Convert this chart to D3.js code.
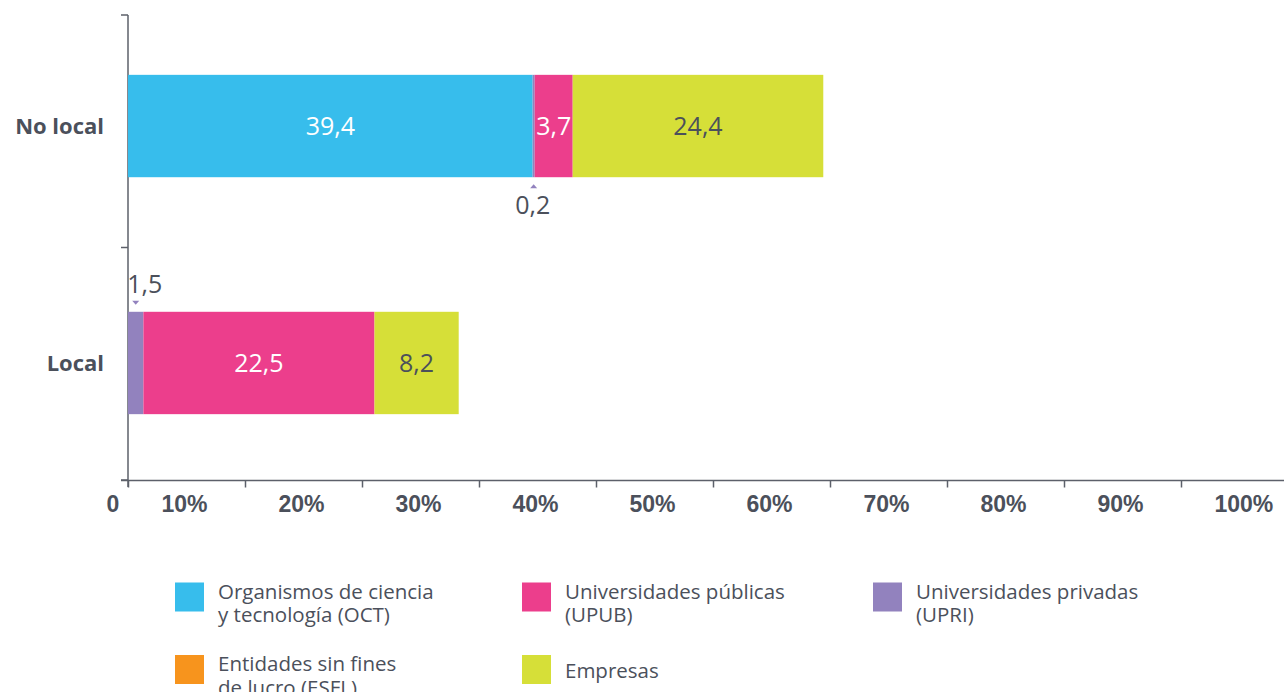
<!DOCTYPE html>
<html>
<head>
<meta charset="utf-8">
<script src="https://cdn.jsdelivr.net/npm/d3@7"></script>
<style>
	body { margin: 0; background: #fff; font-family: "Open Sans", "Noto Sans", sans-serif; }
	svg { display: block; }
</style>
</head>
<body>
<script>
// Data
const categories = ["No local", "Local"];
const seriesKeys = ["OCT", "UPRI", "UPUB", "ESFL", "EMP"];
const seriesNames = {
	OCT: ["Organismos de ciencia", "y tecnología (OCT)"],
	UPUB: ["Universidades públicas", "(UPUB)"],
	UPRI: ["Universidades privadas", "(UPRI)"],
	ESFL: ["Entidades sin fines", "de lucro (ESFL)"],
	EMP: ["Empresas"],
};
const octValues = [39.4, 0];
const upriValues = [0.2, 1.5];
const upubValues = [3.7, 22.5];
const esflValues = [0, 0];
const empValues = [24.4, 8.2];
const tickValues = [0, 10, 20, 30, 40, 50, 60, 70, 80, 90, 100];
const legendOrder = ["OCT", "UPUB", "UPRI", "ESFL", "EMP"];

const colors = {
	OCT: "#37bdec",
	UPUB: "#ec3e8c",
	UPRI: "#9282be",
	ESFL: "#f7941d",
	EMP: "#d6df38",
};
const textColor = "#4b505b";
const axisColor = "#5c606a";

const w = 1284;
const h = 692;

const rows = categories.map((c, i) => ({
	cat: c,
	OCT: octValues[i],
	UPRI: upriValues[i],
	UPUB: upubValues[i],
	ESFL: esflValues[i],
	EMP: empValues[i],
}));

const svg = d3.select("body").append("svg").attr("width", w).attr("height", h);

// Scales
const x = d3.scaleLinear().domain([0, 100]).range([128, 1155]); // bars
const xAxisScale = d3.scaleLinear().domain([0, 100]).range([128, 1298]); // axis ticks
const yAxisBand = d3.scaleBand().domain(categories).range([15, 480]);
const y = d3.scaleBand().domain(categories).range([8.5, 480.5]).paddingInner(0.568).paddingOuter(0.28);

// X axis
const xAxis = d3.axisBottom(xAxisScale).tickValues(tickValues).tickSize(7).tickSizeOuter(0)
	.tickFormat((d) => (d === 0 ? "0" : d + "%"));
const gx = svg.append("g").attr("transform", "translate(0,480.5)").call(xAxis);
gx.select(".domain").attr("stroke", axisColor).attr("stroke-width", 1.5).attr("d", "M121,0H1284");
gx.selectAll(".tick line").attr("stroke", axisColor).attr("stroke-width", 1.5);
gx.selectAll(".tick").filter((d) => d === 100).select("line").remove();
gx.selectAll(".tick text")
	.attr("fill", textColor)
	.attr("font-size", 23)
	.attr("font-weight", 700)
	.attr("text-anchor", "start")
	.attr("y", 15)
	.attr("dy", "0.71em")
	.attr("x", (d) => (d === 0 ? -22 : -84));

// Y axis
const yTicks = categories.map((c) => yAxisBand(c)).concat([480]);
svg.append("line")
	.attr("x1", 128).attr("x2", 128)
	.attr("y1", 15).attr("y2", 487)
	.attr("stroke", axisColor).attr("stroke-width", 1.5);
svg.selectAll(".ytick")
	.data(yTicks)
	.enter()
	.append("line")
	.attr("x1", 121).attr("x2", 128)
	.attr("y1", (d) => d).attr("y2", (d) => d)
	.attr("stroke", axisColor).attr("stroke-width", 1.5);

svg.selectAll(".cat")
	.data(categories)
	.enter()
	.append("text")
	.attr("x", 104)
	.attr("y", (d) => y(d) + y.bandwidth() / 2)
	.attr("dy", "0.35em")
	.attr("text-anchor", "end")
	.attr("font-size", 22)
	.attr("font-weight", 700)
	.attr("fill", textColor)
	.text((d) => d);

// Stacked bars
const stacked = d3.stack().keys(seriesKeys)(rows);

const layers = svg.selectAll(".layer")
	.data(stacked)
	.enter()
	.append("g")
	.attr("fill", (d) => colors[d.key]);

layers.selectAll("rect")
	.data((d) => d.map((p) => ({ key: d.key, p })))
	.enter()
	.append("rect")
	.attr("x", (d) => x(d.p[0]))
	.attr("y", (d) => y(d.p.data.cat))
	.attr("width", (d) => x(d.p[1]) - x(d.p[0]))
	.attr("height", y.bandwidth());

// Value labels
const fmt = (v) => String(v).replace(".", ",");
const labels = [];
stacked.forEach((layer) => {
	layer.forEach((p, i) => {
		const v = p[1] - p[0];
		if (v > 0) labels.push({ key: layer.key, v: Math.round(v * 10) / 10, p, i });
	});
});

labels.forEach((d) => {
	const cx = x((d.p[0] + d.p[1]) / 2);
	const top = y(d.p.data.cat);
	const bottom = top + y.bandwidth();
	if (d.v >= 2) {
		svg.append("text")
			.attr("x", cx)
			.attr("y", top + y.bandwidth() / 2)
			.attr("dy", "0.36em")
			.attr("text-anchor", "middle")
			.attr("font-size", 25)
			.attr("fill", d.key === "EMP" ? textColor : "#fff")
			.text(fmt(d.v));
	} else if (d.i === 0) {
		// below the bar, marker pointing up
		svg.append("path")
			.attr("d", `M${cx - 3.5},${bottom + 11}L${cx + 3.5},${bottom + 11}L${cx},${bottom + 7}Z`)
			.attr("fill", colors[d.key]);
		svg.append("text")
			.attr("x", cx - 1)
			.attr("y", bottom + 37)
			.attr("text-anchor", "middle")
			.attr("font-size", 25)
			.attr("fill", textColor)
			.text(fmt(d.v));
	} else {
		// above the bar, marker pointing down
		svg.append("path")
			.attr("d", `M${cx - 3.5},${top - 11}L${cx + 3.5},${top - 11}L${cx},${top - 7}Z`)
			.attr("fill", colors[d.key]);
		svg.append("text")
			.attr("x", cx + 9)
			.attr("y", top - 19)
			.attr("text-anchor", "middle")
			.attr("font-size", 25)
			.attr("fill", textColor)
			.text(fmt(d.v));
	}
});

// Legend
const legendX = [175, 522, 873];
const legendY = [582.5, 655];
const legend = svg.append("g");
legendOrder.forEach((k, i) => {
	const lx = legendX[i % 3];
	const ly = legendY[Math.floor(i / 3)];
	legend.append("rect")
		.attr("x", lx).attr("y", ly)
		.attr("width", 29).attr("height", 29)
		.attr("fill", colors[k]);
	const lines = seriesNames[k];
	lines.forEach((line, j) => {
		legend.append("text")
			.attr("x", lx + 43)
			.attr("y", lines.length === 1 ? ly + 16 : ly + 9 + j * 23.5)
			.attr("dy", "0.35em")
			.attr("font-size", 20.5)
			.attr("fill", textColor)
			.text(line);
	});
});
</script>
</body>
</html>
